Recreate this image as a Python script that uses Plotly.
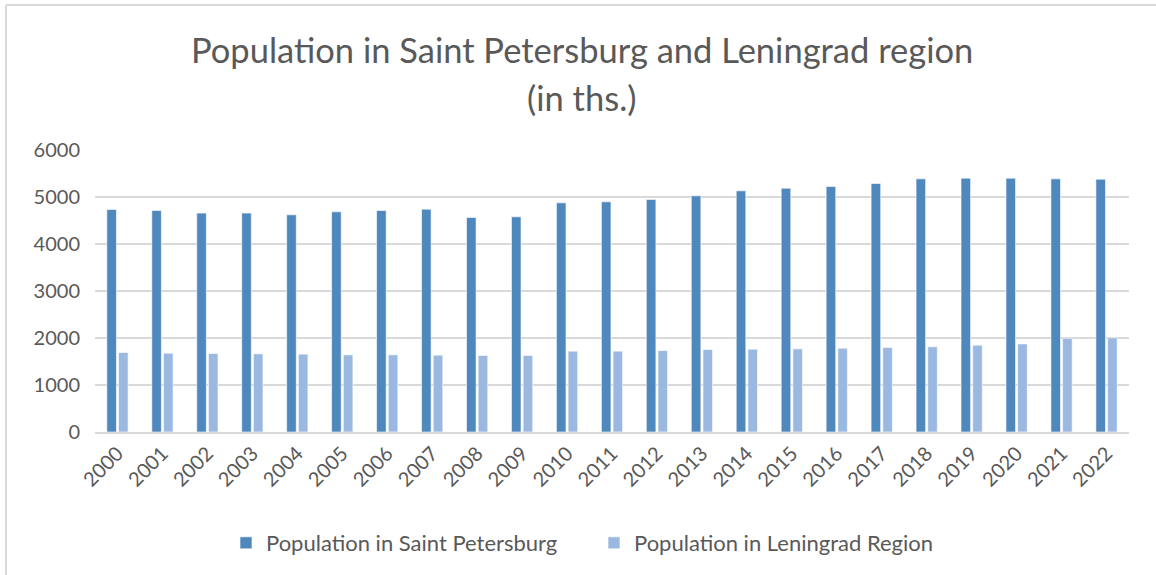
import plotly.graph_objects as go

years = [str(y) for y in range(2000, 2023)]
spb = [4734, 4713, 4657, 4657, 4621, 4685, 4713, 4742, 4565, 4579, 4876, 4897, 4947,
       5025, 5131, 5187, 5223, 5287, 5386, 5400, 5400, 5386, 5379]
lo = [1691, 1677, 1670, 1663, 1656, 1642, 1642, 1635, 1628, 1628, 1720, 1720, 1734,
      1755, 1762, 1769, 1783, 1798, 1812, 1847, 1875, 1996, 2003]

series_names = ["Population in Saint Petersburg", "Population in Leningrad Region"]
title_lines = ["Population in Saint Petersburg and Leningrad region", "(in ths.)"]
colors = ["#4f88bd", "#9bb9e0"]

FONT = "Lato, 'Open Sans', sans-serif"
TXT = "#595959"

fig = go.Figure()
for name, vals, c in zip(series_names, [spb, lo], colors):
    fig.add_trace(go.Bar(x=years, y=vals, name=name, marker_color=c,
                         marker_line_color="rgba(255,255,255,0.6)", marker_line_width=1))

W, H = 1156, 575
L, R, T, B = 95, 27, 150, 143
pw = W - L - R
ph = H - T - B

def px_y(y):
    return (H - B - y) / ph

def px_x(x):
    return (x - L) / pw

fig.update_layout(
    width=W, height=H,
    margin=dict(l=L, r=R, t=T, b=B, autoexpand=False),
    paper_bgcolor="white", plot_bgcolor="white",
    barmode="group", bargap=0.48, bargroupgap=0.18,
    font=dict(family=FONT, color=TXT, size=20),
    legend=dict(orientation="h", x=px_x(594), xanchor="center", y=px_y(543), yanchor="middle",
                font=dict(size=22, color=TXT), itemwidth=30, tracegroupgap=0,
                entrywidthmode="pixels", entrywidth=323),
    xaxis=dict(type="category", tickangle=-45, showgrid=False, showline=True,
               linecolor="#d9d9d9", linewidth=2, ticks="", tickfont=dict(size=20, color=TXT)),
    yaxis=dict(range=[0, 6000], dtick=1000, showgrid=True, gridcolor="#d9d9d9", gridwidth=2,
               zeroline=False, showline=False, ticks="", ticklabelstandoff=14,
               tickfont=dict(size=20, color=TXT)),
    showlegend=True,
)

# title as two centred lines
for txt, yc in zip(title_lines, [49, 97]):
    fig.add_annotation(text=txt, xref="paper", yref="paper", x=px_x(582), y=px_y(yc),
                       xanchor="center", yanchor="middle", showarrow=False,
                       font=dict(size=34.5, color=TXT, family=FONT))

# outer chart border (top and left visible in reference)
x0 = px_x(6)
y0 = px_y(5)
fig.add_shape(type="line", xref="paper", yref="paper", x0=x0, x1=px_x(W + 5), y0=y0, y1=y0,
              line=dict(color="#d9d9d9", width=2))
fig.add_shape(type="line", xref="paper", yref="paper", x0=x0, x1=x0, y0=y0, y1=px_y(H + 5),
              line=dict(color="#d9d9d9", width=2))

fig.write_html("out.html", config={"displayModeBar": False},
               post_script="document.body.style.margin='0';document.body.style.overflow='hidden';")
